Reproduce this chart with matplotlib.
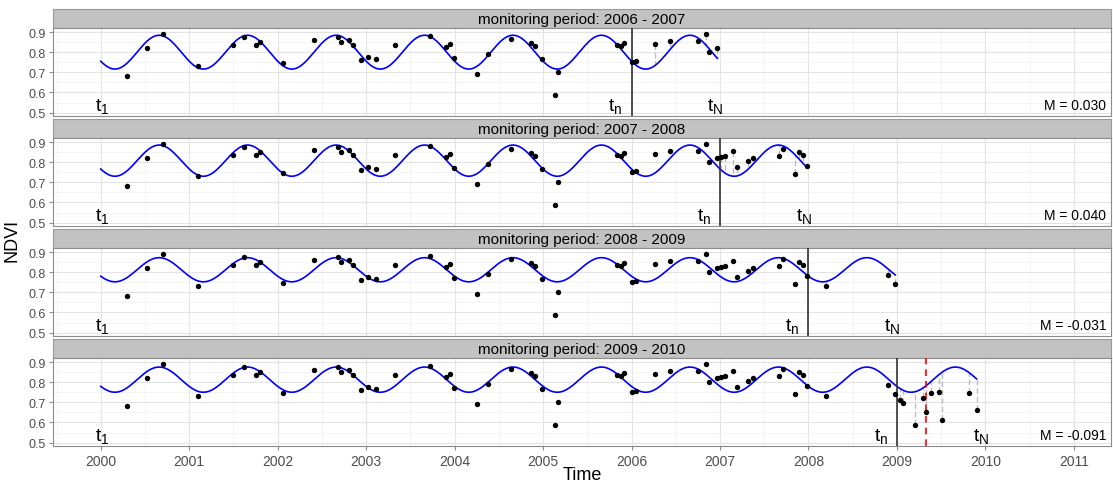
import numpy as np
import matplotlib.pyplot as plt

plt.rcParams['font.family'] = ['Liberation Sans', 'DejaVu Sans']
plt.rcParams['mathtext.default'] = 'regular'

# NDVI time series (same series, cut at end of each monitoring period)
time = [2000.30, 2000.52, 2000.70, 2001.10, 2001.49, 2001.62, 2001.75, 2001.80,
        2002.06, 2002.41, 2002.68, 2002.72, 2002.81, 2002.85, 2002.94, 2003.02,
        2003.11, 2003.33, 2003.72, 2003.90, 2003.95, 2003.99, 2004.25, 2004.38,
        2004.64, 2004.86, 2004.91, 2004.99, 2005.13, 2005.17, 2005.83, 2005.88,
        2005.92, 2006.01, 2006.05, 2006.27, 2006.44, 2006.75, 2006.84, 2006.88,
        2006.97, 2007.01, 2007.06, 2007.15, 2007.19, 2007.32, 2007.37, 2007.67,
        2007.71, 2007.85, 2007.89, 2007.94, 2007.98, 2008.20, 2008.90, 2008.98,
        2009.03, 2009.07, 2009.20, 2009.29, 2009.33, 2009.38, 2009.47, 2009.51,
        2009.82, 2009.90]
ndvi = [0.680, 0.820, 0.890, 0.732, 0.838, 0.875, 0.837, 0.848,
        0.745, 0.860, 0.873, 0.848, 0.858, 0.838, 0.760, 0.777,
        0.767, 0.835, 0.882, 0.827, 0.840, 0.770, 0.693, 0.792,
        0.863, 0.847, 0.832, 0.767, 0.587, 0.702, 0.835, 0.832,
        0.847, 0.750, 0.757, 0.843, 0.855, 0.853, 0.892, 0.800,
        0.822, 0.827, 0.830, 0.855, 0.777, 0.808, 0.823, 0.832,
        0.863, 0.740, 0.850, 0.838, 0.782, 0.733, 0.788, 0.742,
        0.713, 0.697, 0.588, 0.720, 0.653, 0.745, 0.752, 0.612,
        0.747, 0.662]

# monitoring periods
t_start = [2006, 2007, 2008, 2009]
t_end = [2007, 2008, 2009, 2010]
mag_labels = ['M = 0.030', 'M = 0.040', 'M = -0.031', 'M = -0.091']
# fitted harmonic model per panel
fit_mean = [0.800, 0.8075, 0.812, 0.8125]
fit_amp = [0.084, 0.0775, 0.060, 0.0625]
fit_peak = [0.66, 0.66, 0.66, 0.66]
break_time = 2009.33

time = np.array(time)
ndvi = np.array(ndvi)

W, H = 1113, 485
fig = plt.figure(figsize=(W / 100, H / 100), dpi=100)


def box(x0, y0, w, h):
    return [x0 / W, 1 - (y0 + h) / H, w / W, h / H]


def season(t, i):
    return fit_mean[i] + fit_amp[i] * np.cos(2 * np.pi * (t - fit_peak[i]))


for i in range(4):
    top = 10 + 110 * i
    sax = fig.add_axes(box(53, top, 1058, 19))
    sax.set_facecolor('#C2C2C2')
    sax.set_xticks([])
    sax.set_yticks([])
    for s in sax.spines.values():
        s.set_color('#9A9A9A')
        s.set_linewidth(0.8)
    sax.text(0.5, 0.45, 'monitoring period: %d - %d' % (t_start[i], t_end[i]),
             ha='center', va='center', fontsize=11, transform=sax.transAxes)

    ax = fig.add_axes(box(53, top + 19, 1058, 88))
    ax.set_xlim(1999.46, 2011.42)
    ax.set_ylim(0.483, 0.92)
    ax.set_xticks(range(2000, 2012))
    ax.set_xticks(np.arange(1999.5, 2011.5, 1), minor=True)
    ax.set_yticks([0.5, 0.6, 0.7, 0.8, 0.9])
    ax.set_yticks([0.55, 0.65, 0.75, 0.85], minor=True)
    ax.set_yticklabels(['0.5', '0.6', '0.7', '0.8', '0.9'])
    ax.grid(which='major', color='#E3E3E3', lw=0.8)
    ax.grid(which='minor', color='#F2F2F2', lw=0.6)
    ax.set_axisbelow(True)
    for s in ax.spines.values():
        s.set_color('#8C8C8C')
        s.set_linewidth(0.8)
    ax.tick_params(which='minor', length=0)
    ax.tick_params(axis='y', length=3, color='#8C8C8C', labelcolor='#4D4D4D',
                   labelsize=9, pad=2)
    if i < 3:
        ax.tick_params(axis='x', length=0, labelbottom=False)
    else:
        ax.tick_params(axis='x', length=3, color='#8C8C8C', labelcolor='#4D4D4D',
                       labelsize=10, pad=3)

    keep = time <= t_end[i]
    t_i = time[keep]
    v_i = ndvi[keep]
    mon = t_i > t_start[i]

    tt = np.linspace(2000, t_i.max(), 600)
    ax.vlines(t_i[mon], v_i[mon], season(t_i[mon], i), colors='#BDBDBD',
              linestyles=(0, (4, 2)), lw=1.0, zorder=2)
    ax.plot(tt, season(tt, i), color='blue', lw=1.2, zorder=3)
    ax.scatter(t_i, v_i, s=15, c='black', linewidths=0, zorder=4)
    ax.axvline(t_start[i], color='#333333', lw=1.2, zorder=3)
    if i == 3:
        ax.axvline(break_time, color='red', ls=(0, (4, 3)), lw=1.2, zorder=3)

    ax.text(2000.02, 0.513, r'$t_1$', ha='center', va='baseline', fontsize=14)
    ax.text(t_start[i] - 0.1, 0.513, r'$t_n$', ha='right', va='baseline', fontsize=14)
    ax.text(t_end[i] - 0.05, 0.513, r'$t_N$', ha='center', va='baseline', fontsize=14)
    ax.text(0.9955, 0.04, mag_labels[i], ha='right', va='bottom', fontsize=10,
            transform=ax.transAxes)

fig.text(12 / W, 1 - 240 / H, 'NDVI', rotation=90, ha='center', va='center', fontsize=13)
fig.text(582 / W, 1 - 476 / H, 'Time', ha='center', va='center', fontsize=13)

fig.savefig('out.png', dpi=100)
